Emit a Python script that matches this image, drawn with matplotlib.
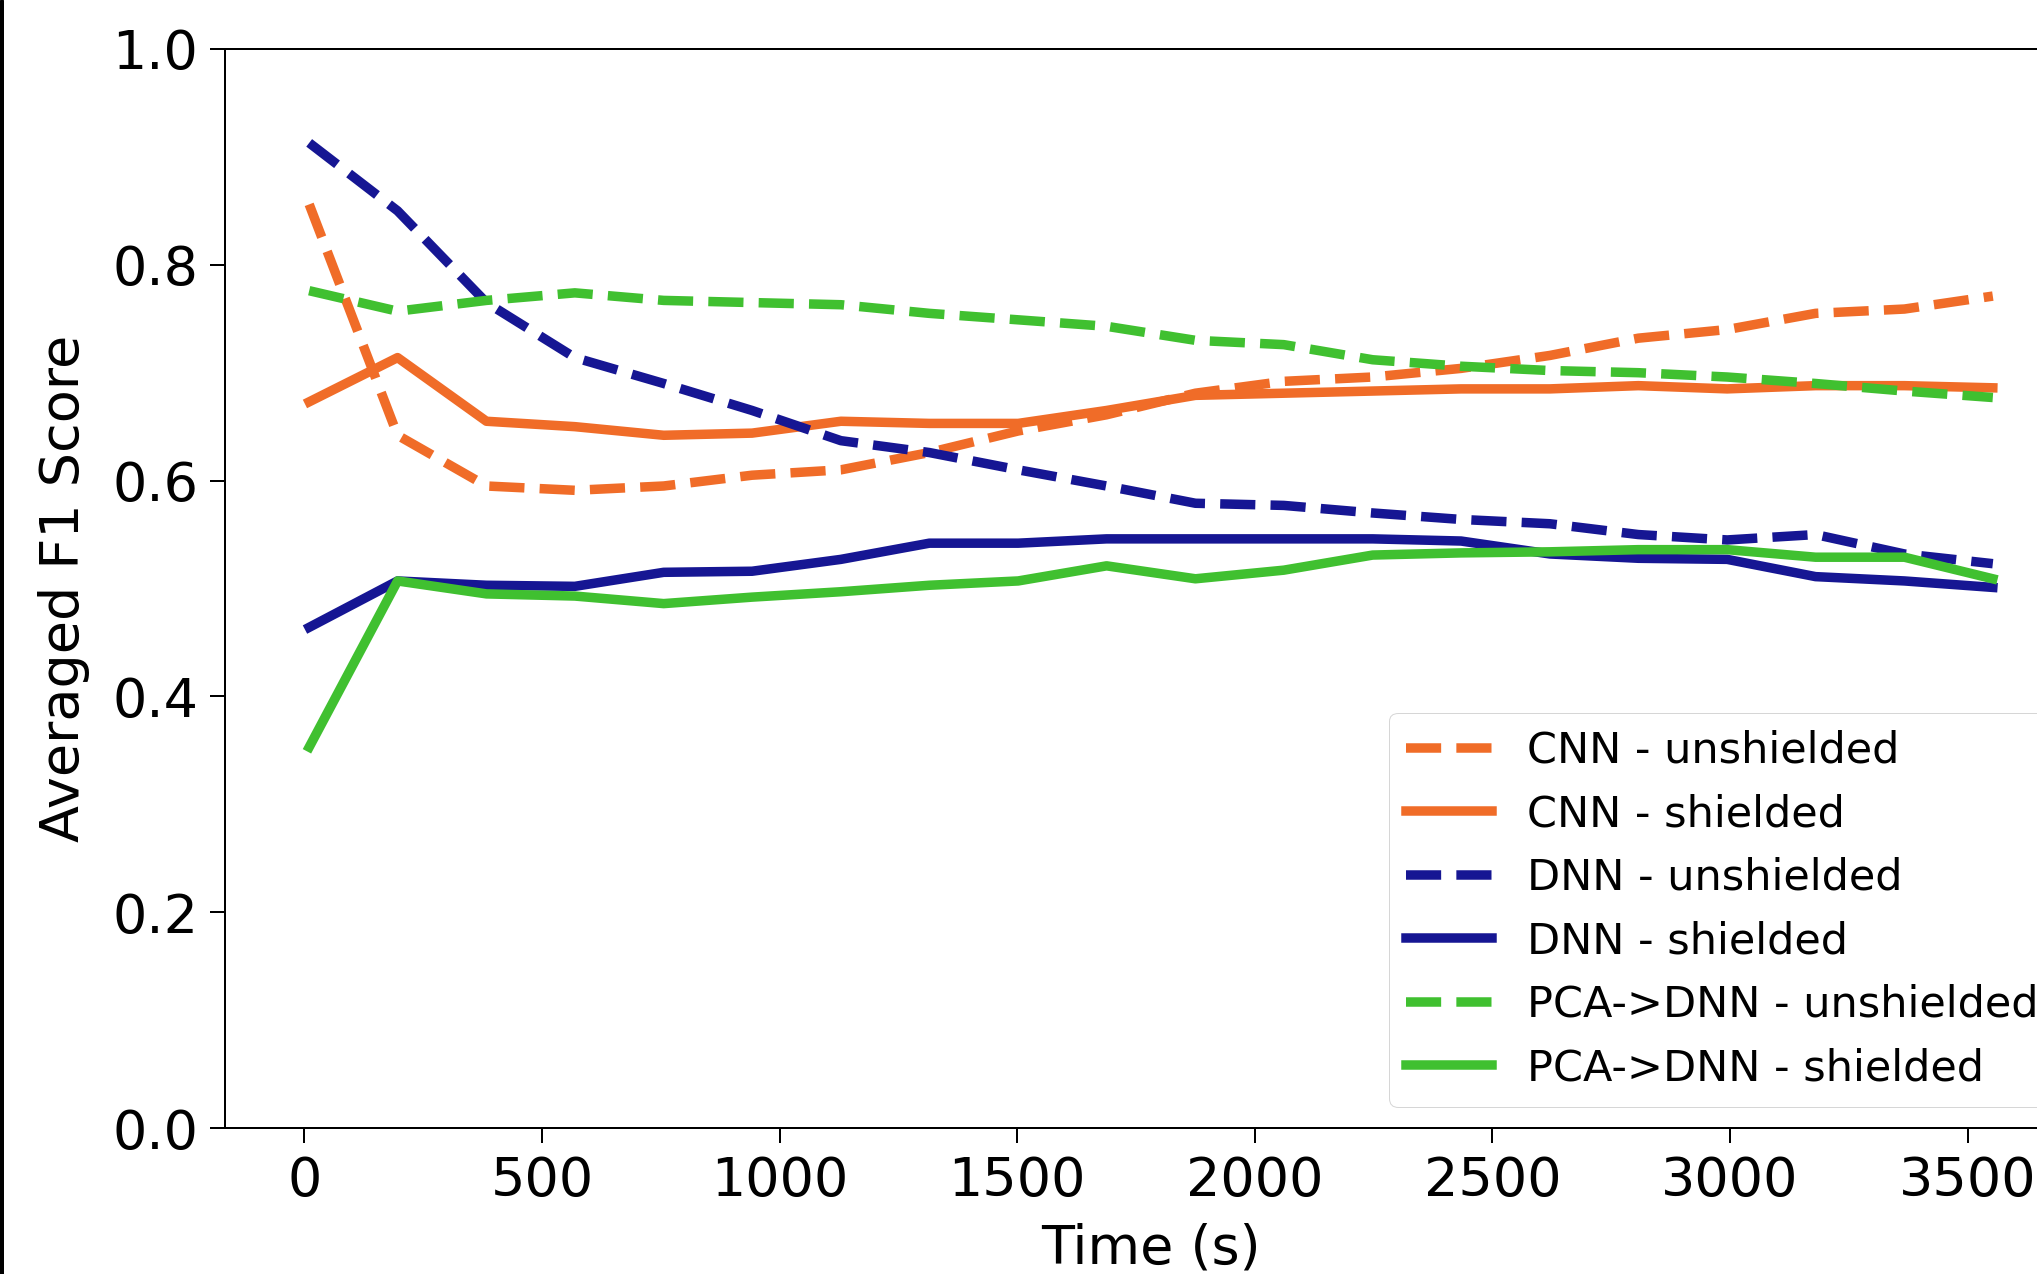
import matplotlib.pyplot as plt
from matplotlib.patches import Rectangle

# time stamps of the evaluation windows (s)
time_s = [10, 196, 383, 569, 756, 942, 1129, 1315, 1502, 1688,
          1875, 2061, 2248, 2434, 2621, 2807, 2994, 3180, 3367, 3553]

cnn_unshielded = [0.856, 0.642, 0.595, 0.591, 0.595, 0.605, 0.610, 0.626, 0.646, 0.661,
                  0.681, 0.692, 0.696, 0.704, 0.716, 0.732, 0.740, 0.755, 0.759, 0.771]
cnn_shielded = [0.673, 0.714, 0.655, 0.650, 0.642, 0.644, 0.655, 0.653, 0.653, 0.665,
                0.679, 0.681, 0.683, 0.685, 0.685, 0.688, 0.685, 0.688, 0.688, 0.686]
dnn_unshielded = [0.913, 0.850, 0.765, 0.714, 0.690, 0.665, 0.637, 0.626, 0.610, 0.595,
                  0.579, 0.577, 0.570, 0.564, 0.560, 0.550, 0.545, 0.550, 0.532, 0.523]
dnn_shielded = [0.464, 0.507, 0.503, 0.502, 0.515, 0.516, 0.527, 0.542, 0.542, 0.546,
                0.546, 0.546, 0.546, 0.544, 0.532, 0.528, 0.527, 0.511, 0.507, 0.501]
pca_unshielded = [0.776, 0.757, 0.767, 0.774, 0.767, 0.765, 0.763, 0.755, 0.749, 0.743,
                  0.730, 0.726, 0.712, 0.706, 0.702, 0.700, 0.696, 0.690, 0.683, 0.677]
pca_shielded = [0.353, 0.507, 0.495, 0.493, 0.486, 0.492, 0.497, 0.503, 0.507, 0.521,
                0.509, 0.517, 0.531, 0.533, 0.534, 0.536, 0.536, 0.529, 0.529, 0.509]

ORANGE = '#F06C28'
NAVY = '#161693'
GREEN = '#40C030'
LW = 9.5

# dpi 72 -> sizes below are in pixels
fig = plt.figure(figsize=(2037 / 72, 1274 / 72), dpi=72)
# axes run past the right edge on purpose (the original is cropped there)
ax = fig.add_axes([225 / 2037, 146 / 1274, (2077 - 225) / 2037, (1128 - 49) / 1274])

ax.plot(time_s, cnn_unshielded, '--', color=ORANGE, lw=LW, label='CNN - unshielded')
ax.plot(time_s, cnn_shielded, '-', color=ORANGE, lw=LW, label='CNN - shielded')
ax.plot(time_s, dnn_unshielded, '--', color=NAVY, lw=LW, label='DNN - unshielded')
ax.plot(time_s, dnn_shielded, '-', color=NAVY, lw=LW, label='DNN - shielded')
ax.plot(time_s, pca_unshielded, '--', color=GREEN, lw=LW, label='PCA->DNN - unshielded')
ax.plot(time_s, pca_shielded, '-', color=GREEN, lw=LW, label='PCA->DNN - shielded')

ax.set_ylim(0, 1.0)
ax.set_xticks([0, 500, 1000, 1500, 2000, 2500, 3000, 3500])
ax.set_yticks([0.0, 0.2, 0.4, 0.6, 0.8, 1.0])
ax.tick_params(labelsize=54, length=15, width=2, pad=12)
for s in ax.spines.values():
    s.set_linewidth(2)

ax.set_xlabel('Time (s)', fontsize=54, labelpad=16)
ax.set_ylabel('Averaged F1 Score', fontsize=54, labelpad=22)

ax.legend(loc='lower right', fontsize=43, handlelength=2.0)

fig.patches.append(Rectangle((0, 0), 3 / 2037, 1, transform=fig.transFigure,
                             color='black', zorder=10))

fig.savefig('out.png', dpi=72)
